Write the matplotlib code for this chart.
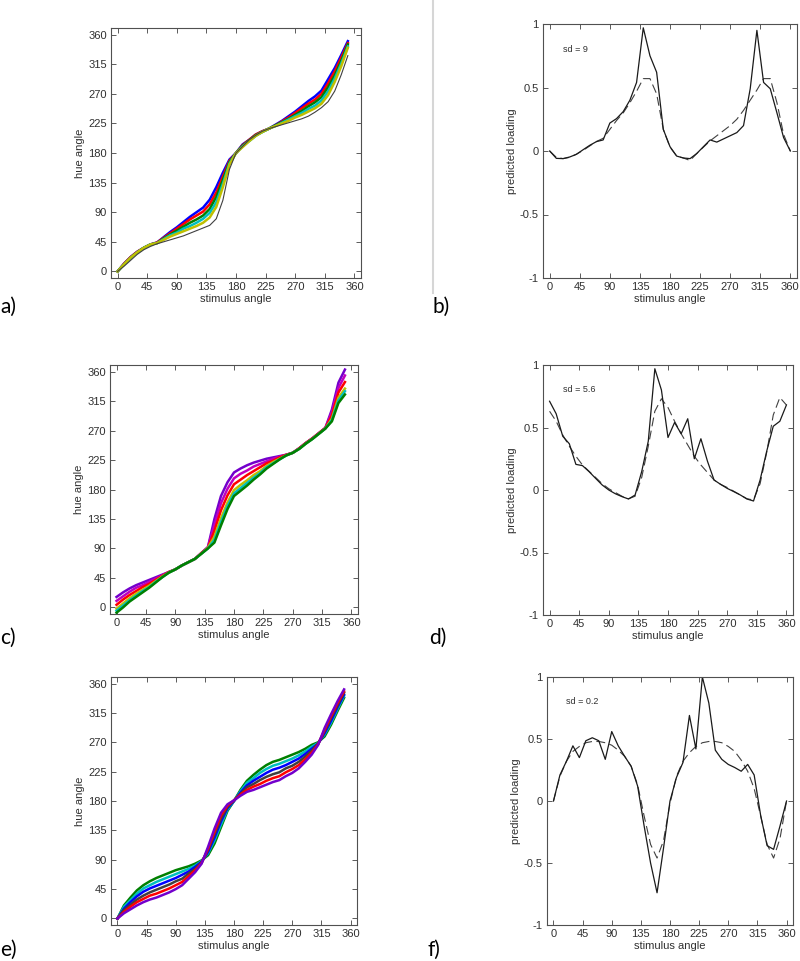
import numpy as np
import matplotlib.pyplot as plt
from matplotlib.lines import Line2D

plt.rcParams['font.family'] = ['Liberation Sans', 'DejaVu Sans']

# stimulus angles
x_hue = list(range(0, 360, 10))     # 0..350
x_load = list(range(0, 370, 10))    # 0..360

hue_ticks = [0, 45, 90, 135, 180, 225, 270, 315, 360]
load_ticks = [-1, -0.5, 0, 0.5, 1]
load_ticklabels = ['-1', '-0.5', '0', '0.5', '1']

# matlab default line colours
ml_colors = {'b': (0, 0, 1), 'g': (0, 0.5, 0), 'r': (1, 0, 0), 'c': (0, 0.75, 0.75),
             'm': (0.75, 0, 0.75), 'y': (0.75, 0.75, 0), 'k': (0.25, 0.25, 0.25),
             'p': (0.45, 0, 0.8)}

# panel a) hue angle curves (top of band to bottom)
a_1 = [0, 12, 22, 30, 36, 41, 44, 52, 60, 67, 75, 83, 90, 97, 109, 128, 150, 170, 180, 193,
       200, 208, 213, 217, 223, 229, 236, 243, 251, 259, 266, 275, 292, 309, 329, 350]
a_2 = [0, 12, 22, 30, 36, 41, 44, 51, 58, 65, 72, 79, 85, 91, 102, 120, 144, 168, 180, 192,
       200, 208, 213, 217, 222, 228, 234, 241, 248, 255, 261, 270, 286, 304, 325, 347]
a_3 = [0, 11, 21, 29, 36, 41, 43, 50, 56, 62, 68, 74, 79, 85, 95, 113, 139, 166, 180, 191,
       199, 207, 212, 217, 222, 227, 232, 238, 244, 251, 257, 265, 280, 298, 320, 345]
a_4 = [0, 11, 21, 29, 36, 41, 43, 49, 55, 59, 65, 69, 74, 80, 89, 105, 133, 164, 180, 190,
       198, 206, 212, 217, 221, 226, 231, 236, 241, 247, 252, 260, 274, 293, 316, 342]
a_5 = [0, 11, 21, 29, 36, 41, 43, 48, 53, 57, 61, 65, 69, 74, 82, 98, 128, 162, 180, 189,
       198, 206, 212, 217, 221, 225, 229, 234, 238, 243, 248, 255, 268, 288, 312, 340]
a_6 = [0, 8, 17, 26, 33, 38, 42, 45, 48, 51, 54, 58, 62, 66, 70, 80, 108, 155, 180, 190,
       200, 207, 213, 217, 220, 223, 226, 229, 232, 236, 242, 249, 258, 274, 299, 328]
a_curves = [a_1, a_2, a_3, a_4, a_5, a_6]
a_cols = ['b', 'r', 'g', 'c', 'y', 'k']

# panel c)
c_1 = [16, 23, 29, 34, 38, 42, 46, 50, 54, 58, 64, 69, 74, 83, 92, 135, 170, 191, 206, 212,
       217, 221, 224, 227, 229, 231, 233, 236, 243, 251, 258, 266, 274, 302, 343, 363]
c_2 = [10, 17, 24, 30, 34, 39, 44, 49, 54, 58, 64, 69, 74, 83, 92, 126, 159, 181, 197, 204,
       209, 215, 219, 223, 227, 230, 233, 236, 243, 251, 258, 266, 274, 298, 335, 354]
c_3 = [4, 12, 19, 25, 31, 36, 42, 48, 54, 58, 64, 69, 74, 83, 91, 117, 148, 171, 188, 195,
       202, 208, 214, 220, 224, 229, 233, 236, 243, 251, 258, 266, 274, 293, 328, 344]
c_4 = [-2, 6, 14, 21, 27, 33, 40, 47, 53, 58, 64, 69, 74, 82, 91, 108, 136, 160, 179, 187,
       194, 202, 208, 216, 222, 227, 232, 236, 242, 250, 257, 265, 273, 288, 320, 334]
c_5 = [-5, 3, 11, 18, 25, 31, 39, 46, 53, 58, 64, 69, 74, 82, 90, 103, 130, 155, 174, 182,
       190, 198, 205, 214, 220, 226, 232, 236, 242, 250, 257, 265, 273, 286, 316, 330]
c_6 = [-8, 0, 9, 16, 23, 30, 38, 46, 53, 58, 64, 69, 74, 82, 90, 99, 125, 150, 170, 178,
       186, 195, 203, 212, 219, 226, 232, 236, 242, 250, 257, 265, 273, 284, 312, 325]
c_curves = [c_1, c_2, c_3, c_4, c_5, c_6]
c_cols = ['p', 'm', 'r', 'y', 'c', 'g']

# panel e)
e_1 = [0, 20, 32, 43, 51, 57, 62, 66, 70, 74, 77, 80, 84, 89, 97, 115, 140, 165, 180, 197,
       211, 220, 228, 235, 240, 243, 247, 251, 255, 260, 266, 270, 279, 297, 318, 338]
e_2 = [0, 18, 28, 38, 46, 51, 56, 60, 64, 68, 72, 76, 81, 88, 100, 120, 144, 167, 180, 195,
       208, 215, 223, 229, 234, 237, 241, 245, 250, 256, 263, 269, 282, 300, 321, 341]
e_3 = [0, 15, 25, 34, 41, 46, 50, 54, 58, 62, 67, 72, 79, 87, 102, 124, 149, 169, 180, 193,
       204, 211, 217, 223, 228, 231, 235, 240, 245, 252, 260, 268, 284, 303, 324, 343]
e_4 = [0, 13, 21, 29, 35, 40, 44, 48, 52, 57, 61, 69, 76, 86, 105, 129, 153, 171, 181, 191,
       201, 206, 212, 217, 221, 224, 230, 234, 240, 248, 257, 268, 287, 307, 327, 346]
e_5 = [0, 10, 18, 25, 30, 35, 38, 42, 46, 51, 56, 65, 74, 85, 107, 133, 158, 173, 181, 190,
       197, 202, 206, 211, 215, 218, 224, 229, 235, 244, 254, 267, 289, 310, 330, 348]
e_6 = [0, 8, 14, 20, 25, 29, 32, 36, 40, 45, 51, 61, 71, 84, 110, 138, 162, 175, 181, 188,
       194, 197, 201, 205, 209, 212, 218, 223, 230, 240, 251, 266, 292, 313, 333, 351]
e_curves = [e_1, e_2, e_3, e_4, e_5, e_6]
e_cols = ['g', 'c', 'b', 'k', 'r', 'p']

# panels b) d) f) predicted loading: solid = observed, dashed = fit
b_solid = [0, -0.058, -0.06, -0.047, -0.026, 0.01, 0.045, 0.074, 0.087, 0.22,
           0.255, 0.31, 0.40, 0.54, 0.97, 0.75, 0.62, 0.17, 0.034, -0.04,
           -0.055, -0.06, -0.02, 0.034, 0.087, 0.07, 0.095, 0.12, 0.145, 0.20,
           0.49, 0.95, 0.54, 0.49, 0.30, 0.105, 0.0]
b_dash = [0, -0.05, -0.06, -0.05, -0.025, 0.005, 0.04, 0.075, 0.10, 0.17,
          0.24, 0.30, 0.38, 0.47, 0.57, 0.57, 0.45, 0.17, 0.03, -0.04,
          -0.055, -0.075, -0.02, 0.03, 0.08, 0.12, 0.16, 0.20, 0.25, 0.32,
          0.40, 0.48, 0.57, 0.57, 0.38, 0.13, 0.0]
d_solid = [0.71, 0.61, 0.43, 0.37, 0.205, 0.195, 0.147, 0.093, 0.04, 0.0,
           -0.03, -0.053, -0.072, -0.04, 0.147, 0.39, 0.97, 0.80, 0.42, 0.54,
           0.45, 0.57, 0.25, 0.41, 0.23, 0.08, 0.045, 0.013, -0.013, -0.04,
           -0.072, -0.088, 0.08, 0.31, 0.51, 0.55, 0.68]
d_dash = [0.63, 0.55, 0.44, 0.35, 0.27, 0.20, 0.15, 0.10, 0.05, 0.01,
          -0.02, -0.05, -0.07, -0.05, 0.10, 0.35, 0.63, 0.73, 0.66, 0.55,
          0.45, 0.36, 0.27, 0.20, 0.14, 0.08, 0.045, 0.02, -0.01, -0.04,
          -0.07, -0.08, 0.05, 0.30, 0.60, 0.74, 0.68]
f_solid = [0, 0.21, 0.32, 0.445, 0.35, 0.486, 0.51, 0.486, 0.336, 0.56,
           0.445, 0.36, 0.28, 0.12, -0.20, -0.50, -0.74, -0.38, 0.0, 0.19,
           0.31, 0.69, 0.42, 1.0, 0.79, 0.41, 0.336, 0.295, 0.27, 0.24,
           0.295, 0.21, -0.115, -0.36, -0.39, -0.20, 0.0]
f_dash = [0, 0.20, 0.32, 0.40, 0.44, 0.47, 0.48, 0.48, 0.47, 0.45,
          0.41, 0.36, 0.28, 0.13, -0.12, -0.35, -0.46, -0.32, -0.02, 0.20,
          0.32, 0.39, 0.44, 0.47, 0.48, 0.48, 0.47, 0.44, 0.40, 0.33,
          0.24, 0.10, -0.12, -0.35, -0.46, -0.30, 0.0]

sd_labels = ['sd = 9', 'sd = 5.6', 'sd = 0.2']

W, H = 800, 961
fig = plt.figure(figsize=(W / 100, H / 100), dpi=100)


def px_axes(left, top, right, bottom):
    return fig.add_axes([left / W, 1 - bottom / H, (right - left) / W, (bottom - top) / H])


def matlab_style(ax):
    ax.tick_params(direction='in', top=True, right=True, length=3.5, width=0.6,
                   labelsize=8, labelcolor='#303030', color='#404040', pad=3)
    for s in ax.spines.values():
        s.set_color('#505050')
        s.set_linewidth(0.8)


def hue_panel(ax, curves, cols, thin_last=False):
    for i, (ys, c) in enumerate(zip(curves, cols)):
        lw = 0.8 if (thin_last and i == len(curves) - 1) else 1.8
        ax.plot(x_hue, ys, color=ml_colors[c], lw=lw)
    ax.set_xlim(-10, 370)
    ax.set_ylim(-10, 370)
    ax.set_xticks(hue_ticks)
    ax.set_yticks(hue_ticks)
    ax.set_xlabel('stimulus angle', fontsize=8, color='#303030', labelpad=1)
    ax.set_ylabel('hue angle', fontsize=8, color='#303030', labelpad=2)
    matlab_style(ax)


def load_panel(ax, solid, dash, label):
    ax.plot(x_load, dash, color='#404040', lw=0.8, ls=(0, (8, 4)))
    ax.plot(x_load, solid, color='#1a1a1a', lw=0.9)
    ax.set_xlim(-10, 370)
    ax.set_ylim(-1, 1)
    ax.set_xticks(hue_ticks)
    ax.set_yticks(load_ticks)
    ax.set_yticklabels(load_ticklabels)
    ax.text(20, 0.8, label, fontsize=6.5, color='#303030', va='center')
    ax.set_xlabel('stimulus angle', fontsize=8, color='#303030', labelpad=1)
    ax.set_ylabel('predicted loading', fontsize=8, color='#303030', labelpad=2)
    matlab_style(ax)


ax_a = px_axes(111, 28, 361, 278)
ax_b = px_axes(543, 24, 797, 278)
ax_c = px_axes(110, 365, 358, 614)
ax_d = px_axes(543, 365, 793, 615)
ax_e = px_axes(111, 677, 357, 925)
ax_f = px_axes(547, 677, 793, 925)

hue_panel(ax_a, a_curves, a_cols, thin_last=True)
hue_panel(ax_c, c_curves, c_cols)
hue_panel(ax_e, e_curves, e_cols)
load_panel(ax_b, b_solid, b_dash, sd_labels[0])
load_panel(ax_d, d_solid, d_dash, sd_labels[1])
load_panel(ax_f, f_solid, f_dash, sd_labels[2])

# panel letters
for lab, xp, yp in [('a)', 0, 307), ('b)', 433, 307), ('c)', 0, 638),
                    ('d)', 429, 638), ('e)', 0, 950), ('f)', 428, 950)]:
    fig.text(xp / W, 1 - yp / H, lab, fontsize=15, family=['Lato', 'DejaVu Sans'],
             va='center', ha='left', color='black')

# thin grey separator at top
fig.add_artist(Line2D([433 / W, 433 / W], [1, 1 - 293 / H], color='#d6d6d6', lw=1.5))

fig.savefig('out.png', dpi=100)
